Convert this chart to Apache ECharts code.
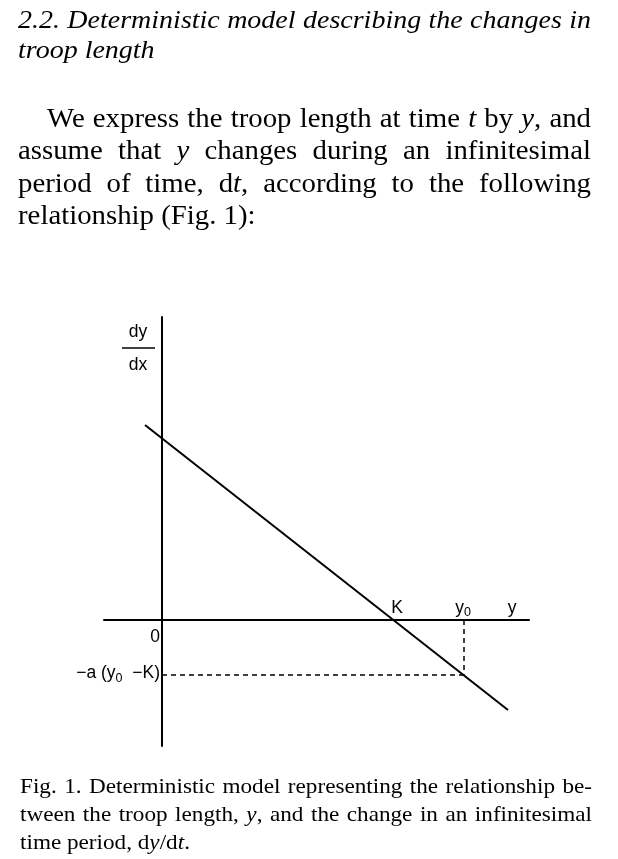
<!DOCTYPE html>
<html><head><meta charset="utf-8">
<script src="https://cdn.jsdelivr.net/npm/echarts@6/dist/echarts.min.js"></script>
<style>html,body{margin:0;padding:0;background:#fff}#c{width:618px;height:859px}</style>
</head><body><div id="c"></div>
<script>
// ---- data (arbitrary units) ----
const lineXs = [-1.7, 34.6];        // ends of the deterministic line (y)
const lineYs = [19.5, -9.0];        // ends of the deterministic line (dy/dt)
const kValue = 23.1;                // K, where dy/dt = 0
const y0Value = 30.2;               // y0
const dropValue = -5.5;             // -a(y0-K)
const xRange = [-5.8, 36.7];
const yRange = [-12.6, 30.3];

// ---- page text ----
const headingLines = [
  '2.2. Deterministic model describing the changes in',
  'troop length'
];
const bodyLines = [
  'We express the troop length at time *t* by *y*, and',
  'assume that *y* changes during an infinitesimal',
  'period of time, d*t*, according to the following',
  'relationship (Fig. 1):'
];
const captionLines = [
  'Fig. 1. Deterministic model representing the relationship be-',
  'tween the troop length, *y*, and the change in an infinitesimal',
  'time period, d*y*/d*t*.'
];

const SERIF = '"Liberation Serif", "Times New Roman", serif';
const SANS = '"Liberation Sans", Arial, sans-serif';
const ctx = document.createElement('canvas').getContext('2d');
function fstr(size, it, fam) { return (it ? 'italic ' : '') + size + 'px ' + fam; }
function measure(t, size, it, fam) { ctx.font = fstr(size, it, fam); return ctx.measureText(t).width; }
function segs(word, baseIt) {
  return word.split('*').map((p, i) => ({ t: p, it: baseIt !== (i % 2 === 1) })).filter(s => s.t);
}
function textEl(t, x, y, size, it, fam, sx) {
  return {
    type: 'text', silent: true, x: x, y: y, scaleX: sx || 1,
    style: {
      text: t, x: 0, y: 0, fontSize: size, fontFamily: fam, fontStyle: it ? 'italic' : 'normal',
      fill: '#000', textAlign: 'left', textVerticalAlign: 'middle', align: 'left', verticalAlign: 'middle'
    }
  };
}
function layoutLine(text, left, right, baseline, size, sx, justify, baseIt, out) {
  const words = text.split(' ').map(w => segs(w, baseIt));
  const ws = words.map(w => w.reduce((a, s) => a + sx * measure(s.t, size, s.it, SERIF), 0));
  const total = ws.reduce((a, b) => a + b, 0);
  const space = sx * measure(' ', size, baseIt, SERIF);
  const gap = (justify && words.length > 1) ? (right - left - total) / (words.length - 1) : space;
  const yMid = baseline - 0.32 * size;
  let x = left;
  words.forEach((w, i) => {
    let xx = x;
    w.forEach(s => { out.push(textEl(s.t, xx, yMid, size, s.it, SERIF, sx)); xx += sx * measure(s.t, size, s.it, SERIF); });
    x += ws[i] + gap;
  });
}

const L = 18, R = 591;
const pageText = [];
const headSize = 25, headSx = 1.12;
const bodySize = 26.5, bodySx = 1.087;
const capSize = 21.5, capSx = 1.078;
const headBase = [29, 59];
const bodyBase = [128.5, 161, 193.5, 226];
const capBase = [794, 822, 850];
headingLines.forEach((t, i) => layoutLine(t, L, R, headBase[i], headSize, headSx, i < headingLines.length - 1, true, pageText));
bodyLines.forEach((t, i) => layoutLine(t, i === 0 ? 47 : L, R, bodyBase[i], bodySize, bodySx, i < bodyLines.length - 1, false, pageText));
captionLines.forEach((t, i) => layoutLine(t, 20, 592, capBase[i], capSize, capSx, i < captionLines.length - 1, false, pageText));

const chart = echarts.init(document.getElementById('c'), null, { renderer: 'canvas' });
const axisCommon = {
  type: 'value',
  axisLine: { show: true, onZero: true, lineStyle: { color: '#000', width: 2 } },
  axisTick: { show: false }, axisLabel: { show: false }, splitLine: { show: false }
};
const option = {
  animation: false,
  backgroundColor: '#fff',
  grid: { left: 104, top: 317, width: 425, height: 429 },
  xAxis: Object.assign({}, axisCommon, { min: xRange[0], max: xRange[1] }),
  yAxis: Object.assign({}, axisCommon, { min: yRange[0], max: yRange[1] }),
  series: [
    { type: 'line', symbol: 'none', silent: true, clip: false,
      data: [[lineXs[0], lineYs[0]], [lineXs[1], lineYs[1]]],
      lineStyle: { color: '#000', width: 2 } },
    { type: 'line', symbol: 'none', silent: true,
      data: [[y0Value, 0], [y0Value, dropValue]],
      lineStyle: { color: '#000', width: 1.5, type: [5, 4] } },
    { type: 'line', symbol: 'none', silent: true,
      data: [[0, dropValue], [y0Value, dropValue]],
      lineStyle: { color: '#000', width: 1.5, type: [5, 4] } }
  ]
};
chart.setOption(option);

// ---- diagram labels, anchored to data positions ----
const px = p => chart.convertToPixel({ gridIndex: 0 }, p);
const labels = [];
const LS = 17.5;
function run(parts, x, yMid, align) {
  const w = parts.map(p => measure(p.t, p.size, false, SANS));
  const total = w.reduce((a, b) => a + b, 0);
  let cx = align === 'right' ? x - total : (align === 'center' ? x - total / 2 : x);
  parts.forEach((p, i) => { labels.push(textEl(p.t, cx, yMid + (p.dy || 0), p.size, false, SANS, 1)); cx += w[i]; });
}
const topP = px([0, yRange[1]]);
const originP = px([0, 0]);
const kP = px([kValue, 0]);
const y0P = px([y0Value, 0]);
const endP = px([xRange[1], 0]);
const dropP = px([0, dropValue]);

run([{ t: 'dy', size: LS }], topP[0] - 24, topP[1] + 15, 'center');
labels.push({ type: 'line', silent: true, shape: { x1: topP[0] - 40, y1: topP[1] + 31, x2: topP[0] - 7, y2: topP[1] + 31 }, style: { stroke: '#000', lineWidth: 1.5 } });
run([{ t: 'dx', size: LS }], topP[0] - 24, topP[1] + 48, 'center');
run([{ t: '0', size: LS }], originP[0] - 2, originP[1] + 17, 'right');
run([{ t: '\u2212a (y', size: LS }, { t: '0', size: 12.5, dy: 6 }, { t: '  \u2212K)', size: LS }], dropP[0] - 2, dropP[1] - 2, 'right');
run([{ t: 'K', size: LS }], kP[0] + 4, kP[1] - 12, 'center');
run([{ t: 'y', size: LS }, { t: '0', size: 12.5, dy: 5 }], y0P[0] - 1, y0P[1] - 12, 'center');
run([{ t: 'y', size: LS }], endP[0] - 17, endP[1] - 12, 'center');

chart.setOption({ graphic: { elements: pageText.concat(labels) } });
</script>
</body></html>
